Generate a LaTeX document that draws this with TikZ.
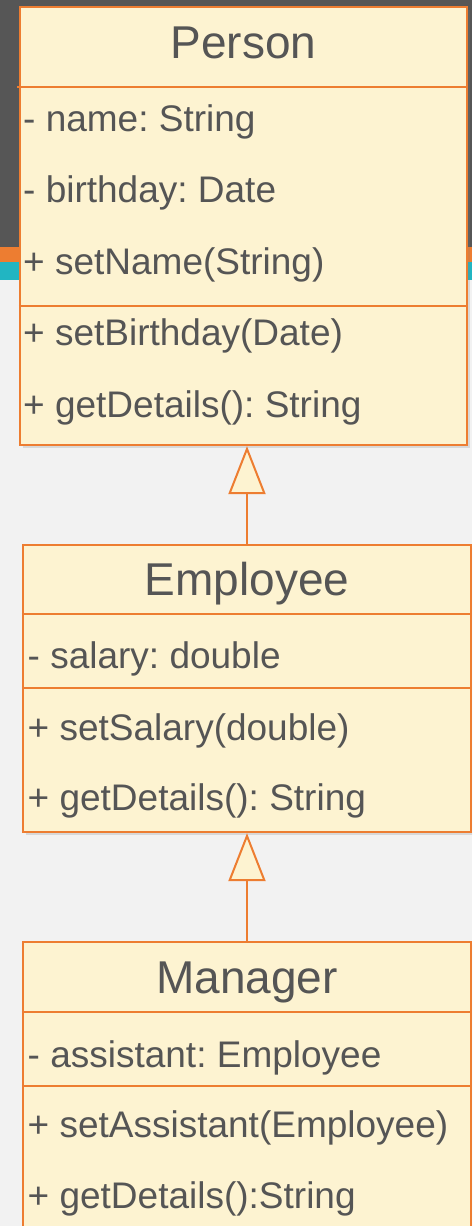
\documentclass[tikz,border=0pt]{standalone}
\usepackage{fontspec}
\setmainfont{Liberation Sans}
\frenchspacing
\usetikzlibrary{arrows.meta,shadows}
\definecolor{umlorange}{HTML}{ED7D31}
\definecolor{umlfill}{HTML}{FDF3D1}
\definecolor{umltext}{HTML}{555555}
\definecolor{slidedark}{HTML}{565656}
\definecolor{slideteal}{HTML}{21B5C2}
\definecolor{slidegray}{HTML}{F2F2F2}

\begin{document}
\begin{tikzpicture}[x=1pt,y=-1pt,
  class/.style={draw=umlorange,fill=umlfill,line width=2.2pt,inner sep=0pt,
    drop shadow={opacity=.22,shadow xshift=3pt,shadow yshift=-3pt}},
  title/.style={text=umltext,font=\fontsize{46}{46}\selectfont,inner sep=0pt,anchor=base},
  member/.style={text=umltext,font=\fontsize{37}{37}\selectfont,inner sep=0pt,anchor=base west},
  sep/.style={draw=umlorange,line width=2.2pt},
  inherit/.style={draw=umlorange,line width=2pt,
    -{Triangle[length=48pt,width=37pt,fill=umlfill]}}]
  \useasboundingbox (0,0) rectangle (472,1226);
  \clip (0,0) rectangle (472,1226);
  \fill[slidegray] (0,0) rectangle (472,1226);
  \fill[slidedark] (0,0) rectangle (472,247);
  \fill[umlorange] (0,247) rectangle (472,262);
  \fill[slideteal] (0,262) rectangle (472,280);

  \node[class,minimum width=447pt,minimum height=438pt] (person) at (243.5,226) {};
  \node[class,minimum width=448pt,minimum height=287pt] (employee) at (247,688.5) {};
  \node[class,minimum width=448pt,minimum height=298pt] (manager) at (247,1091) {};

  \draw[sep] (17,87) -- (person.east |- 0,87);
  \draw[sep] (person.west |- 0,306) -- (person.east |- 0,306);
  \draw[sep] (employee.west |- 0,614) -- (employee.east |- 0,614);
  \draw[sep] (employee.west |- 0,688) -- (employee.east |- 0,688);
  \draw[sep] (manager.west |- 0,1012) -- (manager.east |- 0,1012);
  \draw[sep] (manager.west |- 0,1086) -- (manager.east |- 0,1086);

  \node[title] (ptitle) at (person |- 0,58) {Person};
  \node[member] (pname) at (23,131) {- name: String};
  \node[member] (pbirth) at (23,202.5) {- birthday: Date};
  \node[member] (psetname) at (23,274) {+ setName(String)};
  \node[member] (psetbirth) at (23,345.5) {+ setBirthday(Date)};
  \node[member] (pdetails) at (23,417) {+ getDetails(): String};

  \node[title] (etitle) at (employee |- 0,595) {Employee};
  \node[member] (esalary) at (27.5,668) {- salary: double};
  \node[member] (esetsalary) at (27.5,740) {+ setSalary(double)};
  \node[member] (edetails) at (27.5,810) {+ getDetails(): String};

  \node[title] (mtitle) at (manager |- 0,993) {Manager};
  \node[member] (massist) at (27.5,1067) {- assistant: Employee};
  \node[member] (msetassist) at (27.5,1137) {+ setAssistant(Employee)};
  \node[member] (mdetails) at (27.5,1208) {+ getDetails():String};

  \draw[inherit] (employee.north) -- (employee.north |- person.south);
  \draw[inherit] (manager.north) -- (manager.north |- employee.south);
\end{tikzpicture}
\end{document}
